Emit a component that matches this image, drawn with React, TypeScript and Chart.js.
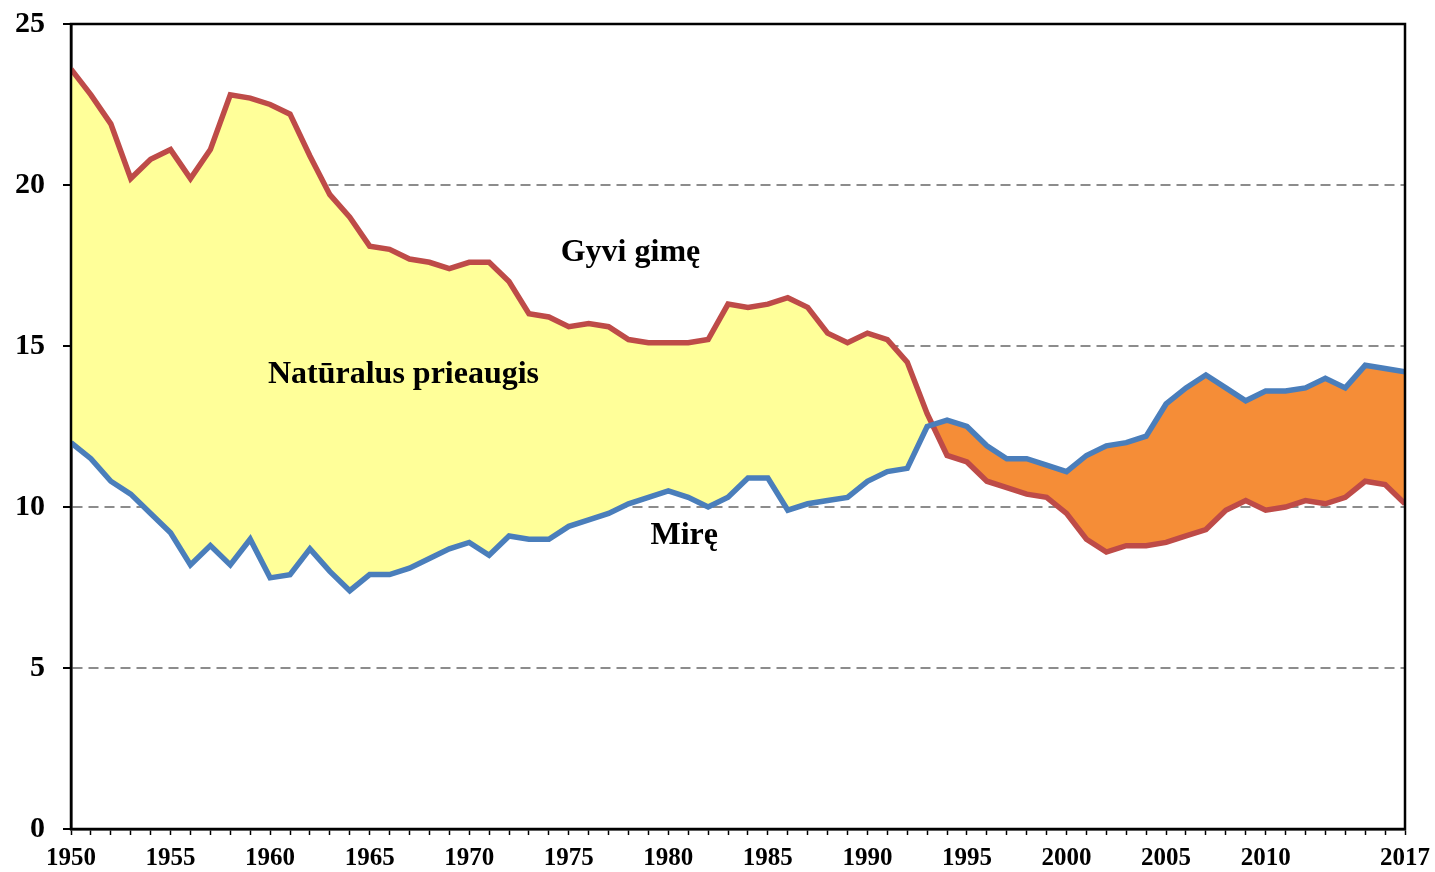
import React, { useEffect, useRef } from "react";
import { Chart, registerables } from "chart.js";

Chart.register(...registerables);

const years: number[] = [];
for (let y = 1950; y <= 2017; y++) years.push(y);

const births = [
  23.6, 22.8, 21.9, 20.2, 20.8, 21.1, 20.2, 21.1, 22.8, 22.7,
  22.5, 22.2, 20.9, 19.7, 19.0, 18.1, 18.0, 17.7, 17.6, 17.4,
  17.6, 17.6, 17.0, 16.0, 15.9, 15.6, 15.7, 15.6, 15.2, 15.1,
  15.1, 15.1, 15.2, 16.3, 16.2, 16.3, 16.5, 16.2, 15.4, 15.1,
  15.4, 15.2, 14.5, 12.9, 11.6, 11.4, 10.8, 10.6, 10.4, 10.3,
  9.8, 9.0, 8.6, 8.8, 8.8, 8.9, 9.1, 9.3, 9.9, 10.2,
  9.9, 10.0, 10.2, 10.1, 10.3, 10.8, 10.7, 10.1,
];

const deaths = [
  12.0, 11.5, 10.8, 10.4, 9.8, 9.2, 8.2, 8.8, 8.2, 9.0,
  7.8, 7.9, 8.7, 8.0, 7.4, 7.9, 7.9, 8.1, 8.4, 8.7,
  8.9, 8.5, 9.1, 9.0, 9.0, 9.4, 9.6, 9.8, 10.1, 10.3,
  10.5, 10.3, 10.0, 10.3, 10.9, 10.9, 9.9, 10.1, 10.2, 10.3,
  10.8, 11.1, 11.2, 12.5, 12.7, 12.5, 11.9, 11.5, 11.5, 11.3,
  11.1, 11.6, 11.9, 12.0, 12.2, 13.2, 13.7, 14.1, 13.7, 13.3,
  13.6, 13.6, 13.7, 14.0, 13.7, 14.4, 14.3, 14.2,
];

const xTickLabels = [1950, 1955, 1960, 1965, 1970, 1975, 1980, 1985, 1990, 1995, 2000, 2005, 2010, 2017];

const annotationTexts = ["Gyvi gimę", "Natūralus prieaugis", "Mirę"];
const annotationPos = [
  { x: 1978.1, y: 17.9 },
  { x: 1966.7, y: 14.1 },
  { x: 1980.8, y: 9.1 },
];

const FONT = "'Liberation Serif', 'Times New Roman', serif";

export default function App() {
  const ref = useRef<HTMLCanvasElement | null>(null);

  useEffect(() => {
    if (!ref.current) return;

    const boxPlugin = {
      id: "boxPlugin",
      afterDatasetsDraw(chart: any) {
        const { ctx, chartArea } = chart;
        ctx.save();
        ctx.setLineDash([]);
        ctx.strokeStyle = "#000";
        ctx.lineWidth = 2.5;
        ctx.strokeRect(chartArea.left, chartArea.top, chartArea.right - chartArea.left, chartArea.bottom - chartArea.top);
        const xs = chart.scales.x;
        const ys = chart.scales.y;
        ctx.fillStyle = "#000";
        ctx.font = `bold 32px ${FONT}`;
        ctx.textAlign = "center";
        ctx.textBaseline = "middle";
        annotationTexts.forEach((t, i) => {
          ctx.fillText(t, xs.getPixelForValue(annotationPos[i].x), ys.getPixelForValue(annotationPos[i].y));
        });
        ctx.restore();
      },
    };

    const chart = new Chart(ref.current, {
      type: "line",
      data: {
        datasets: [
          {
            label: "Mirę",
            data: years.map((y, i) => ({ x: y, y: deaths[i] })),
            borderColor: "#4A7EBB",
            borderWidth: 5.5,
            pointRadius: 0,
            tension: 0,
            fill: false,
          },
          {
            label: "Gyvi gimę",
            data: years.map((y, i) => ({ x: y, y: births[i] })),
            borderColor: "#BE4B48",
            borderWidth: 5.5,
            pointRadius: 0,
            tension: 0,
            fill: { target: 0, above: "#FFFF99", below: "#F58D37" },
          },
        ],
      },
      options: {
        responsive: false,
        animation: false,
        layout: { padding: { left: 0, top: 24, right: 30, bottom: 0 } },
        plugins: {
          legend: { display: false },
          tooltip: { enabled: false },
          filler: { drawTime: "beforeDatasetsDraw" },
        } as any,
        scales: {
          x: {
            type: "linear",
            min: 1950,
            max: 2017,
            afterFit: (s: any) => {
              s.height = 43;
              s.paddingLeft = 0;
              s.paddingRight = 0;
            },
            afterBuildTicks: (s: any) => {
              s.ticks = years.map((v) => ({ value: v }));
            },
            ticks: {
              autoSkip: false,
              maxRotation: 0,
              padding: 9,
              color: "#000",
              font: { family: FONT, size: 25, weight: "bold" },
              callback: (v: any) => (xTickLabels.includes(Number(v)) ? String(v) : ""),
            },
            grid: {
              drawOnChartArea: false,
              drawTicks: true,
              tickLength: 6,
              tickColor: "#000",
              tickWidth: 1.5,
            },
            border: { display: true, color: "#000", width: 2.5 },
          },
          y: {
            min: 0,
            max: 25,
            afterFit: (s: any) => {
              s.width = 71;
              s.paddingTop = 0;
              s.paddingBottom = 0;
            },
            ticks: {
              stepSize: 5,
              padding: 18,
              color: "#000",
              font: { family: FONT, size: 30, weight: "bold" },
            },
            grid: {
              color: (c: any) => (c.tick && (c.tick.value === 0 || c.tick.value === 25) ? "rgba(0,0,0,0)" : "#8C8C8C"),
              lineWidth: 2,
              tickBorderDash: [1, 0],
              tickLength: 8,
              tickColor: "#000",
              tickWidth: 2,
            } as any,
            border: { display: true, color: "#000", width: 2.5, dash: [10, 6] },
          },
        },
      } as any,
      plugins: [boxPlugin],
    });

    return () => chart.destroy();
  }, []);

  return (
    <div style={{ position: "absolute", left: 0, top: 0, width: 1435, height: 872, background: "#fff" }}>
      <canvas ref={ref} width={1435} height={872} style={{ display: "block" }} />
    </div>
  );
}
